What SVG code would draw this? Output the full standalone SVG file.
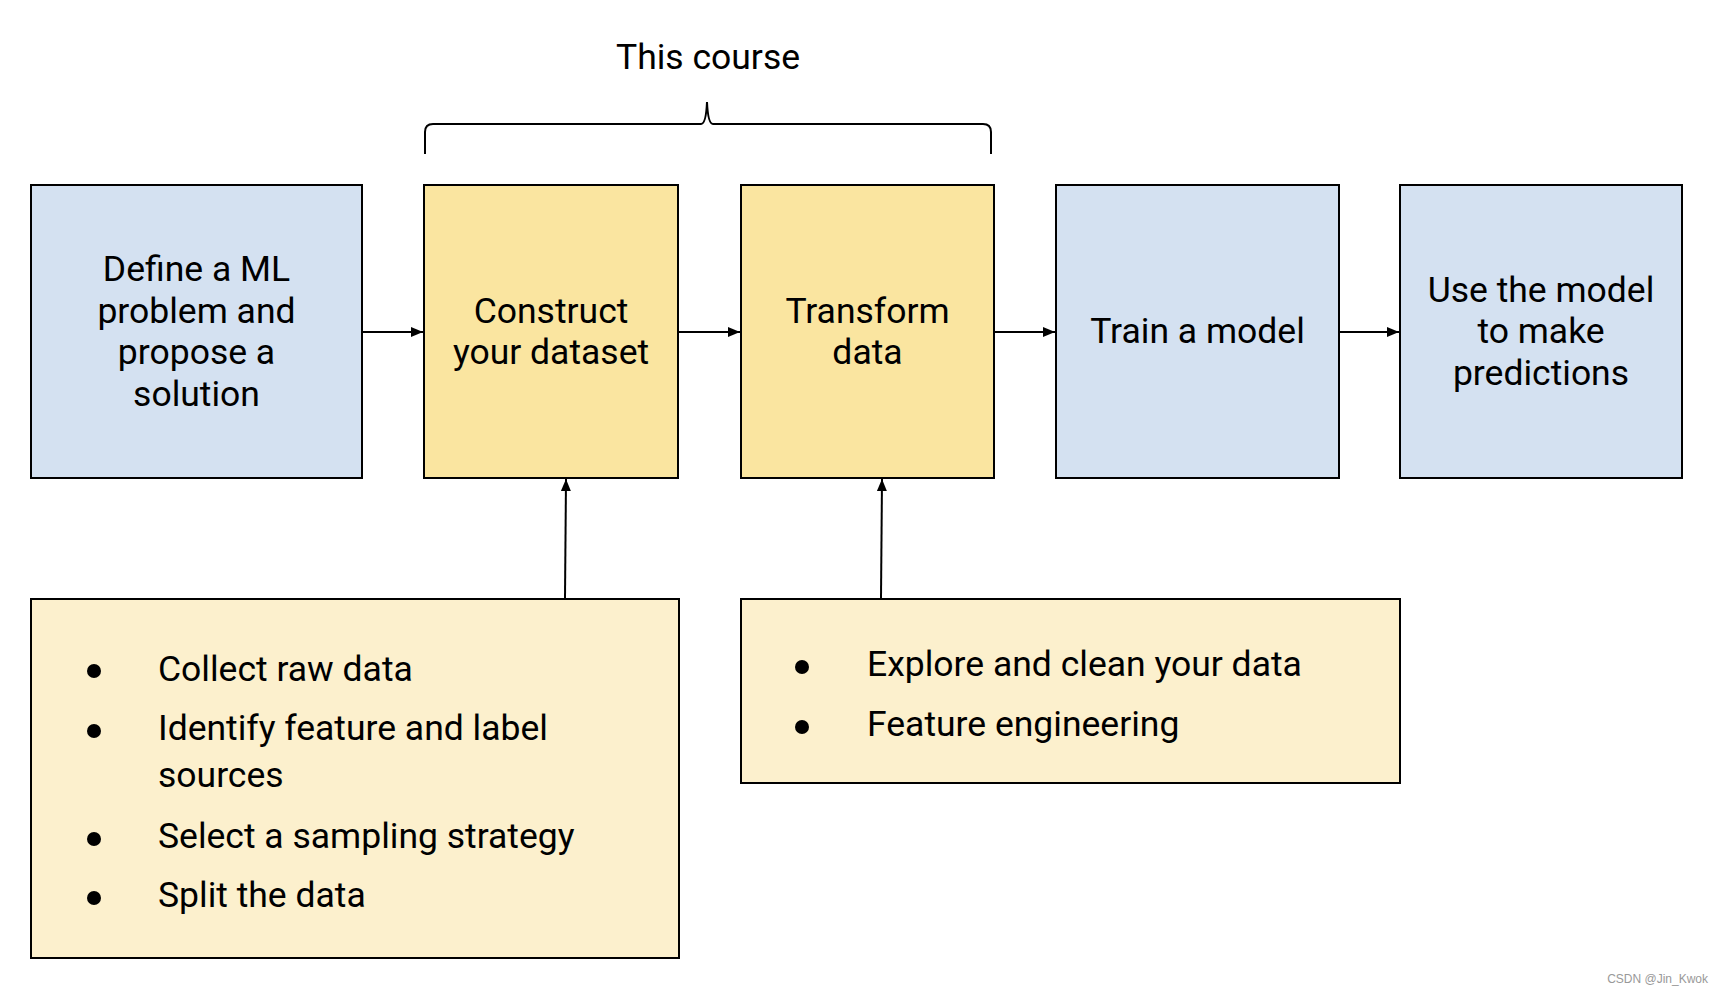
<svg xmlns="http://www.w3.org/2000/svg" width="1726" height="994" viewBox="0 0 1726 994">
<style>
.box{stroke:#000;stroke-width:2}
.blue{fill:#d4e1f1}
.yel{fill:#fae5a0}
.lite{fill:#fcf0cd}
text{font-family:Roboto,"Liberation Sans",sans-serif;fill:#000}
.lbl{font-size:35.5px;text-anchor:middle}
.item{font-size:35.5px}
.conn{stroke:#000;stroke-width:2;fill:none}
</style>
<defs>
<marker id="ah" viewBox="0 0 12 10" refX="12" refY="5" markerWidth="12" markerHeight="10" markerUnits="userSpaceOnUse" orient="auto">
<path d="M0,0 L12,5 L0,10 Z" fill="#000"/>
</marker>
</defs>
<rect width="1726" height="994" fill="#fff"/>

<g id="brace">
<text x="708" y="69" font-size="35.5" text-anchor="middle">This course</text>
<path class="conn" d="M425,154 L425,132 Q425,124 433,124 L701,124 Q706,124 707,102 Q708,124 713,124 L983,124 Q991,124 991,132 L991,154"/>
</g>

<g id="n-define">
<rect class="box blue" x="31" y="185" width="331" height="293"/>
<text class="lbl" x="196.5"><tspan x="196.5" y="281">Define a ML</tspan><tspan x="196.5" y="322.5">problem and</tspan><tspan x="196.5" y="364">propose a</tspan><tspan x="196.5" y="405.5">solution</tspan></text>
</g>

<g id="n-construct">
<rect class="box yel" x="424" y="185" width="254" height="293"/>
<text class="lbl" x="551"><tspan x="551" y="322.5">Construct</tspan><tspan x="551" y="364">your dataset</tspan></text>
</g>

<g id="n-transform">
<rect class="box yel" x="741" y="185" width="253" height="293"/>
<text class="lbl" x="867.5"><tspan x="867.5" y="322.5">Transform</tspan><tspan x="867.5" y="364">data</tspan></text>
</g>

<g id="n-train">
<rect class="box blue" x="1056" y="185" width="283" height="293"/>
<text class="lbl" x="1197.5" y="343">Train a model</text>
</g>

<g id="n-use">
<rect class="box blue" x="1400" y="185" width="282" height="293"/>
<text class="lbl" x="1541"><tspan x="1541" y="301.5">Use the model</tspan><tspan x="1541" y="343">to make</tspan><tspan x="1541" y="384.5">predictions</tspan></text>
</g>

<g id="n-construct-steps">
<rect class="box lite" x="31" y="599" width="648" height="359"/>
<g fill="#000">
<circle cx="94" cy="671" r="7"/>
<circle cx="94" cy="731" r="7"/>
<circle cx="94" cy="839" r="7"/>
<circle cx="94" cy="898" r="7"/>
</g>
<text class="item" x="158" y="680.5">Collect raw data</text>
<text class="item" x="158" y="740">Identify feature and label</text>
<text class="item" x="158" y="787">sources</text>
<text class="item" x="158" y="848">Select a sampling strategy</text>
<text class="item" x="158" y="906.5">Split the data</text>
</g>

<g id="n-transform-steps">
<rect class="box lite" x="741" y="599" width="659" height="184"/>
<g fill="#000">
<circle cx="802" cy="667" r="7"/>
<circle cx="802" cy="727" r="7"/>
</g>
<text class="item" x="867" y="676">Explore and clean your data</text>
<text class="item" x="867" y="735.5">Feature engineering</text>
</g>

<g id="connectors">
<line class="conn" x1="362" y1="332" x2="423" y2="332" marker-end="url(#ah)"/>
<line class="conn" x1="678" y1="332" x2="740" y2="332" marker-end="url(#ah)"/>
<line class="conn" x1="994" y1="332" x2="1055" y2="332" marker-end="url(#ah)"/>
<line class="conn" x1="1339" y1="332" x2="1399" y2="332" marker-end="url(#ah)"/>
<line class="conn" x1="565" y1="598" x2="566" y2="479" marker-end="url(#ah)"/>
<line class="conn" x1="881" y1="598" x2="882" y2="479" marker-end="url(#ah)"/>
</g>

<text x="1708" y="983" font-size="12" text-anchor="end" style="fill:#999;font-family:'Liberation Sans',Arial,sans-serif">CSDN @Jin_Kwok</text>
</svg>
